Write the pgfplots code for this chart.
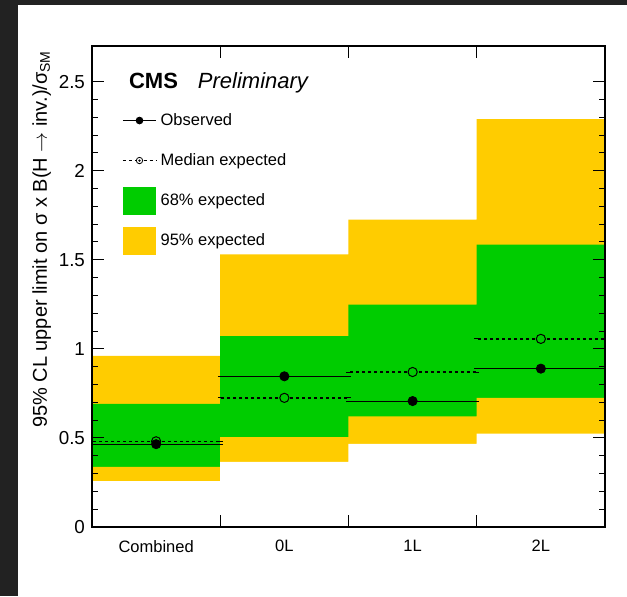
\documentclass[border=0pt]{standalone}
\usepackage{pgfplots}
\pgfplotsset{compat=1.18}
\usepackage{pgfplotstable}
\usepackage{fontspec}
\setmainfont{Liberation Sans}

\definecolor{band68}{RGB}{0,204,0}
\definecolor{band95}{RGB}{255,204,0}
\definecolor{framecol}{RGB}{34,34,34}

% expected bands per category (left bin edge), last row closes the step
\pgfplotstableread{
edge lo95  hi95  lo68  hi68
0    0.257 0.960 0.337 0.691
1    0.365 1.530 0.505 1.072
2    0.466 1.725 0.621 1.248
3    0.524 2.290 0.725 1.585
4    0.524 2.290 0.725 1.585
}\bands

% observed and median expected limits at bin centres
\pgfplotstableread{
x   obs   med
0.5 0.465 0.481
1.5 0.846 0.725
2.5 0.707 0.870
3.5 0.889 1.056
}\limits

\begin{document}
\begin{tikzpicture}[x=1pt,y=1pt]
\fill[framecol] (0,0) rectangle (313.5,-298);
\fill[white] (9,-2.5) rectangle (313.5,-298);
\begin{axis}[
  scale only axis,
  width=256.5pt, height=240.5pt,
  at={(46pt,-263.5pt)}, anchor=south west,
  xmin=0, xmax=4, ymin=0, ymax=2.7,
  axis on top,
  axis line style={line width=0.6pt},
  tick style={black, line width=0.5pt},
  tick align=inside,
  major tick length=6pt, minor tick length=3pt,
  xtick={1,2,3}, xticklabels={},
  extra x ticks={0.5,1.5,2.5,3.5},
  extra x tick labels={Combined,0L,1L,2L},
  extra x tick style={major tick length=0pt},
  xticklabel style={font=\fontsize{8.25}{10}\selectfont, yshift=-3pt},
  ytick={0,0.5,1,1.5,2,2.5},
  minor y tick num=4,
  yticklabel style={font=\fontsize{9.4}{11}\selectfont},
  /pgf/number format/assume math mode=true,
  ylabel={95\% CL upper limit on σ x B(H $\rightarrow$ inv.)/σ\textsubscript{SM}},
  ylabel style={at={([xshift=-22.5pt,yshift=-2pt]rel axis cs:0,1)}, anchor=base east, inner sep=0pt, font=\fontsize{10}{12}\selectfont},
  legend cell align=left,
  legend style={draw=none, fill=none, at={(rel axis cs:0,0.875)}, anchor=north west,
    xshift=15pt, font=\fontsize{8.25}{10}\selectfont, row sep=6pt, inner sep=0pt},
]
% legend entries
\addlegendimage{legend image code/.code={
  \path[draw=none, fill=none] (0pt,-7pt) rectangle (16.5pt,7pt);
  \draw[black, line width=0.5pt] (0pt,0pt) -- (16.5pt,0pt);
  \fill[black] (8.25pt,0pt) circle (1.7pt);}}
\addlegendentry{Observed}
\addlegendimage{legend image code/.code={
  \path[draw=none, fill=none] (0pt,-7pt) rectangle (16.5pt,7pt);
  \draw[black, line width=0.6pt, dash pattern=on 1.5pt off 1.5pt] (0pt,0pt) -- (6.2pt,0pt) (10.3pt,0pt) -- (16.5pt,0pt);
  \draw[black, line width=0.4pt] (8.25pt,0pt) circle (1.6pt);
  \fill[black] (8.25pt,0pt) circle (0.35pt);}}
\addlegendentry{Median expected}
\addlegendimage{legend image code/.code={
  \fill[band68, draw=none] (0pt,-7pt) rectangle (16.5pt,7pt);}}
\addlegendentry{68\% expected}
\addlegendimage{legend image code/.code={
  \fill[band95, draw=none] (0pt,-7pt) rectangle (16.5pt,7pt);}}
\addlegendentry{95\% expected}

% bands, painted from the outermost edge inwards as filled steps
\addplot[fill=band95, draw=none, const plot, forget plot] table[x=edge,y=hi95]{\bands} \closedcycle;
\addplot[fill=band68, draw=none, const plot, forget plot] table[x=edge,y=hi68]{\bands} \closedcycle;
\addplot[fill=band95, draw=none, const plot, forget plot] table[x=edge,y=lo68]{\bands} \closedcycle;
\addplot[fill=white, draw=none, const plot, forget plot] table[x=edge,y=lo95]{\bands} \closedcycle;

% median expected
\addplot[only marks, mark=*, mark size=2.3pt, forget plot,
  mark options={fill=band68, draw=black, line width=0.5pt, solid},
  error bars/.cd, x dir=both, x fixed=0.5,
  error bar style={black, line width=0.75pt, dash pattern=on 1.5pt off 1.5pt},
  error mark options={black, solid, mark size=1.2pt, line width=0.5pt}]
  table[x=x,y=med]{\limits};
% observed
\addplot[only marks, mark=*, mark size=2.3pt, forget plot,
  mark options={fill=black, draw=black},
  error bars/.cd, x dir=both, x fixed=0.5,
  error bar style={black, line width=0.5pt},
  error mark options={black, mark size=1.2pt, line width=0.5pt}]
  table[x=x,y=obs]{\limits};

\node[anchor=base west, xshift=15pt, yshift=-21pt, font=\fontsize{11}{13}\selectfont]
  at (rel axis cs:0,1) {\textbf{CMS}\hspace{10pt}\textit{Preliminary}};
\node[anchor=base east, xshift=-3pt, yshift=5.5pt, font=\fontsize{11}{13}\selectfont]
  at (rel axis cs:1,1) {35.9 fb\textsuperscript{-1} (13 TeV)};
\end{axis}
\pgfresetboundingbox
\path[use as bounding box] (0,0) rectangle (313.5,-298);
\end{tikzpicture}
\end{document}
